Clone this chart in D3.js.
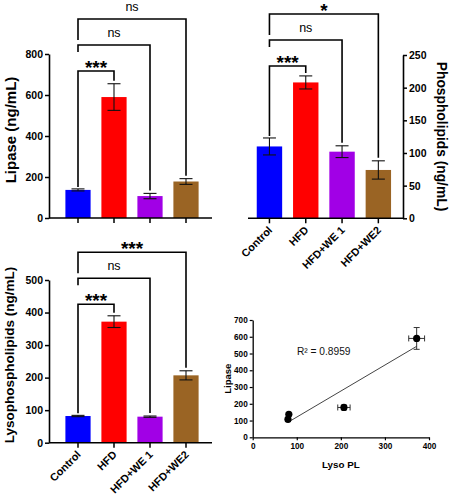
<!DOCTYPE html>
<html>
<head>
<meta charset="utf-8">
<script src="https://cdn.jsdelivr.net/npm/d3@7"></script>
<style>
  html, body { margin: 0; padding: 0; background: #fff; }
  svg { display: block; }
</style>
</head>
<body>
<svg id="chart" width="450" height="500"></svg>
<script>
// ---------------- DATA ----------------
const categories = ["Control", "HFD", "HFD+WE 1", "HFD+WE2"];
const barColors = ["#0000FF", "#FF0000", "#A100E6", "#9A6424"];

const lipaseMean = [137, 590, 107, 178];
const lipaseSem  = [5, 65, 13, 14];
const lipaseTicks = [0, 200, 400, 600, 800];
const lipaseSig = ["***", "ns", "ns"];        // Control vs HFD, WE 1, WE2

const phosphoMean = [110, 208, 102, 74];
const phosphoSem  = [13, 10, 9, 14];
const phosphoTicks = [0, 50, 100, 150, 200, 250];
const phosphoSig = ["***", "ns", "*"];

const lysoMean = [82, 372, 80, 207];
const lysoSem  = [2, 18, 2, 14];
const lysoTicks = [0, 100, 200, 300, 400, 500];
const lysoSig = ["***", "ns", "***"];

const scatterXTicks = [0, 100, 200, 300, 400];
const scatterYTicks = [0, 100, 200, 300, 400, 500, 600, 700];
const r2Label = "R\u00B2 = 0.8959";

// ---------------- DRAW ----------------
const FONT = "'Liberation Sans', Arial, Helvetica, sans-serif";
const svg = d3.select("#chart");

function barPanel(cfg) {
  const g = svg.append("g");
  const x = d3.scaleBand().domain(categories).range(cfg.xRange)
    .paddingInner(0.3).paddingOuter(0.15);
  const y = d3.scaleLinear().domain([0, cfg.ticks[cfg.ticks.length - 1]]).range(cfg.yRange);
  const bw = x.bandwidth();
  const data = categories.map((c, i) => ({c, m: cfg.mean[i], s: cfg.sem[i], col: barColors[i]}));

  // bars
  g.selectAll("rect.bar").data(data).join("rect")
    .attr("x", d => x(d.c)).attr("width", bw)
    .attr("y", d => y(d.m)).attr("height", d => y(0) - y(d.m))
    .attr("fill", d => d.col);

  // error bars
  const eb = g.selectAll("g.eb").data(data).join("g").attr("stroke", "#111").attr("stroke-width", 1.1);
  eb.append("line").attr("x1", d => x(d.c) + bw / 2).attr("x2", d => x(d.c) + bw / 2)
    .attr("y1", d => y(d.m + d.s)).attr("y2", d => y(d.m - d.s));
  eb.append("line").attr("x1", d => x(d.c) + bw / 2 - 6.5).attr("x2", d => x(d.c) + bw / 2 + 6.5)
    .attr("y1", d => y(d.m + d.s)).attr("y2", d => y(d.m + d.s));
  eb.append("line").attr("x1", d => x(d.c) + bw / 2 - 6.5).attr("x2", d => x(d.c) + bw / 2 + 6.5)
    .attr("y1", d => y(d.m - d.s)).attr("y2", d => y(d.m - d.s));

  // y axis
  const yAxis = (cfg.right ? d3.axisRight(y) : d3.axisLeft(y))
    .tickValues(cfg.ticks).tickSize(4).tickSizeOuter(0).tickPadding(2);
  const ya = g.append("g").attr("transform", `translate(${cfg.axisX},0)`).call(yAxis);
  ya.select(".domain").attr("stroke", "#000").attr("stroke-width", 1.6);
  ya.selectAll(".tick line").attr("stroke", "#000").attr("stroke-width", 1.5);
  ya.selectAll(".tick text").attr("font-family", FONT).attr("font-weight", "bold")
    .attr("font-size", 10.5).attr("fill", "#000");

  // x axis
  const xa = g.append("g").attr("transform", `translate(0,${y(0)})`)
    .call(d3.axisBottom(x).tickSize(5).tickSizeOuter(0).tickFormat(""));
  xa.select(".domain").remove();
  xa.selectAll(".tick line").attr("stroke", "#000").attr("stroke-width", 1.5);
  g.append("line").attr("x1", cfg.xLine[0]).attr("x2", cfg.xLine[1])
    .attr("y1", y(0)).attr("y2", y(0)).attr("stroke", "#000").attr("stroke-width", 1.6);

  if (cfg.xLabels) {
    g.selectAll("text.xl").data(categories).join("text")
      .attr("transform", d => `translate(${x(d) + bw / 2 + 3.5},${y(0) + 12.5}) rotate(-45)`)
      .attr("text-anchor", "end")
      .attr("font-family", FONT).attr("font-weight", "bold").attr("font-size", 10.8)
      .text(d => d);
  }

  // y title
  g.append("text")
    .attr("transform", `translate(${cfg.title.x},${cfg.title.y}) rotate(${cfg.right ? 90 : -90})`)
    .attr("text-anchor", "middle")
    .attr("font-family", FONT).attr("font-weight", "bold").attr("font-size", cfg.title.size)
    .text(cfg.title.text);

  // significance brackets (Control vs each)
  const cx0 = x(categories[0]) + bw / 2;
  const legLen = [null, 7, 21];
  cfg.sig.forEach((lab, k) => {
    const t = k + 1;
    const by = cfg.bracketTop + (2 - k) * cfg.bracketStep;
    const tx = x(categories[t]) + bw / 2;
    const rightEnd = y(cfg.mean[t] + cfg.sem[t]) - 3;
    const leftEnd = k === 0 ? y(cfg.mean[0] + cfg.sem[0]) - 2 : by + legLen[k];
    g.append("path")
      .attr("d", `M${cx0},${leftEnd}V${by}H${tx}V${rightEnd}`)
      .attr("fill", "none").attr("stroke", "#000").attr("stroke-width", 1.6);
    const isStar = lab.indexOf("*") >= 0;
    g.append("text")
      .attr("x", (cx0 + tx) / 2)
      .attr("y", isStar ? by + 3 : by - 8)
      .attr("text-anchor", "middle")
      .attr("font-family", FONT)
      .attr("font-weight", isStar ? "bold" : "normal")
      .attr("font-size", isStar ? 19 : 12.5)
      .text(lab);
  });
}

barPanel({
  mean: lipaseMean, sem: lipaseSem, ticks: lipaseTicks, sig: lipaseSig,
  xRange: [60, 204], yRange: [218, 54], axisX: 49, xLine: [49, 212], right: false,
  xLabels: false, bracketTop: 19, bracketStep: 26,
  title: {text: "Lipase (ng/mL)", x: 16, y: 130, size: 15}
});

barPanel({
  mean: phosphoMean, sem: phosphoSem, ticks: phosphoTicks, sig: phosphoSig,
  xRange: [251.3, 396.5], yRange: [218.3, 55], axisX: 403, xLine: [248, 403], right: true,
  xLabels: true, bracketTop: 14, bracketStep: 26,
  title: {text: "Phospholipids (ng/mL)", x: 437, y: 136.5, size: 13.8}
});

barPanel({
  mean: lysoMean, sem: lysoSem, ticks: lysoTicks, sig: lysoSig,
  xRange: [60, 204], yRange: [442.7, 280], axisX: 49, xLine: [49, 212], right: false,
  xLabels: true, bracketTop: 252.3, bracketStep: 26,
  title: {text: "Lysophospholipids (ng/mL)", x: 13.5, y: 355, size: 13.5}
});

// ---------------- SCATTER ----------------
(function () {
  const g = svg.append("g");
  const xS = d3.scaleLinear().domain([0, 400]).range([252.7, 429]);
  const yS = d3.scaleLinear().domain([0, 700]).range([437.3, 320]);
  const pts = categories.map((c, i) => ({x: lysoMean[i], y: lipaseMean[i], ex: lysoSem[i], ey: lipaseSem[i]}));

  const xa = g.append("g").attr("transform", `translate(0,${yS(0)})`)
    .call(d3.axisBottom(xS).tickValues(scatterXTicks).tickSize(3).tickSizeOuter(0).tickPadding(3));
  const ya = g.append("g").attr("transform", `translate(${xS(0)},0)`)
    .call(d3.axisLeft(yS).tickValues(scatterYTicks).tickSize(3).tickSizeOuter(0).tickPadding(2));
  [xa, ya].forEach(a => {
    a.select(".domain").attr("stroke", "#000").attr("stroke-width", 1.3);
    a.selectAll(".tick line").attr("stroke", "#000").attr("stroke-width", 1.2);
    a.selectAll(".tick text").attr("font-family", FONT).attr("font-weight", "bold")
      .attr("font-size", 8.2).attr("fill", "#000");
  });

  g.append("text").attr("x", (xS(0) + xS(400)) / 2).attr("y", 468)
    .attr("text-anchor", "middle").attr("font-family", FONT).attr("font-weight", "bold")
    .attr("font-size", 9.8).text("Lyso PL");
  g.append("text").attr("transform", `translate(231,${(yS(0) + yS(700)) / 2}) rotate(-90)`)
    .attr("text-anchor", "middle").attr("font-family", FONT).attr("font-weight", "bold")
    .attr("font-size", 9.5).text("Lipase");

  // linear regression fit of the plotted points
  const mx = d3.mean(pts, p => p.x), my = d3.mean(pts, p => p.y);
  const sxy = d3.sum(pts, p => (p.x - mx) * (p.y - my));
  const sxx = d3.sum(pts, p => (p.x - mx) ** 2);
  const slope = sxy / sxx, icpt = my - slope * mx;
  const [x0, x1] = d3.extent(pts, p => p.x);
  g.append("line").attr("x1", xS(x0)).attr("y1", yS(icpt + slope * x0))
    .attr("x2", xS(x1)).attr("y2", yS(icpt + slope * x1))
    .attr("stroke", "#444").attr("stroke-width", 1);

  // error bars
  const eg = g.append("g").attr("stroke", "#333").attr("stroke-width", 1);
  pts.forEach(p => {
    if (p.ex > 3) {
      eg.append("line").attr("x1", xS(p.x - p.ex)).attr("x2", xS(p.x + p.ex)).attr("y1", yS(p.y)).attr("y2", yS(p.y));
      [p.x - p.ex, p.x + p.ex].forEach(v => eg.append("line").attr("x1", xS(v)).attr("x2", xS(v))
        .attr("y1", yS(p.y) - 3).attr("y2", yS(p.y) + 3));
    }
    if (p.ey > 6) {
      eg.append("line").attr("x1", xS(p.x)).attr("x2", xS(p.x)).attr("y1", yS(p.y - p.ey)).attr("y2", yS(p.y + p.ey));
      [p.y - p.ey, p.y + p.ey].forEach(v => eg.append("line").attr("y1", yS(v)).attr("y2", yS(v))
        .attr("x1", xS(p.x) - 3).attr("x2", xS(p.x) + 3));
    }
  });

  g.selectAll("circle").data(pts).join("circle")
    .attr("cx", p => xS(p.x)).attr("cy", p => yS(p.y)).attr("r", 3.6).attr("fill", "#000");

  g.append("text").attr("x", 297).attr("y", 355)
    .attr("font-family", FONT).attr("font-size", 10.2).attr("fill", "#111").text(r2Label);
})();
</script>
</body>
</html>
